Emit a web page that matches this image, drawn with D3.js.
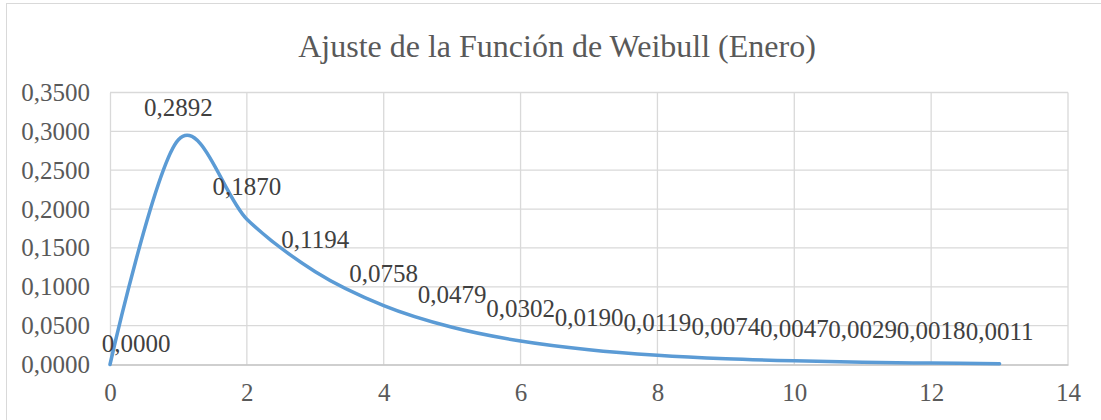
<!DOCTYPE html>
<html>
<head>
<meta charset="utf-8">
<script src="https://cdn.jsdelivr.net/npm/d3@7"></script>
<style>
  text, .chart-text { font-family: 'Liberation Serif', 'Times New Roman', serif !important; }
</style>
</head>
<body style="margin:0">
<script>
// data
var xValues = [0, 1, 2, 3, 4, 5, 6, 7, 8, 9, 10, 11, 12, 13];
var yValues = [0.0000, 0.2892, 0.1870, 0.1194, 0.0758, 0.0479, 0.0302, 0.0190, 0.0119, 0.0074, 0.0047, 0.0029, 0.0018, 0.0011];
var xTicks = [0, 2, 4, 6, 8, 10, 12, 14];
var yTicks = [0, 0.05, 0.10, 0.15, 0.20, 0.25, 0.30, 0.35];
var title = "Ajuste de la Función de Weibull (Enero)";

var W = 1101, H = 420;
var margin = {top: 92.5, right: 33, bottom: 55.5, left: 110};
var width = W - margin.left - margin.right,
    height = H - margin.top - margin.bottom;
var serif = "'Liberation Serif'";

var fmt = function(v) { return v.toFixed(4).replace(".", ","); };

var svg = d3.select("body").append("svg")
  .attr("width", W)
  .attr("height", H)
  .attr("font-family", serif);

// chart frame
svg.append("rect")
  .attr("x", 6.5).attr("y", 3.5)
  .attr("width", W).attr("height", H)
  .attr("fill", "none")
  .attr("stroke", "#d9d9d9");

svg.append("text")
  .attr("class", "chart-text")
  .attr("x", 557)
  .attr("y", 57)
  .attr("text-anchor", "middle")
  .attr("font-size", 32)
  .attr("fill", "#595959")
  .attr("font-family", serif)
  .style("font-family", serif)
  .text(title);

var g = svg.append("g")
  .attr("transform", "translate(" + margin.left + "," + margin.top + ")");

var xScale = d3.scaleLinear().domain([0, 14]).range([0, width]);
var yScale = d3.scaleLinear().domain([0, 0.35]).range([height, 0]);

// gridlines
g.selectAll(".hgrid").data(yTicks.filter(function(d) { return d > 0; }))
  .enter().append("line")
  .attr("x1", 0).attr("x2", width)
  .attr("y1", function(d) { return yScale(d); })
  .attr("y2", function(d) { return yScale(d); })
  .attr("stroke", "#d9d9d9").attr("stroke-width", 1.3);

g.selectAll(".vgrid").data(xTicks.filter(function(d) { return d > 0; }))
  .enter().append("line")
  .attr("x1", function(d) { return xScale(d); })
  .attr("x2", function(d) { return xScale(d); })
  .attr("y1", 0).attr("y2", height)
  .attr("stroke", "#d9d9d9").attr("stroke-width", 1.3);

// axes
var xAxis = g.append("g")
  .attr("transform", "translate(0," + height + ")")
  .call(d3.axisBottom(xScale).tickValues(xTicks).tickSize(0).tickPadding(19));
xAxis.attr("font-family", serif);
xAxis.select(".domain").attr("stroke", "#bfbfbf").attr("stroke-width", 1.5);
xAxis.selectAll("text")
  .attr("class", "chart-text")
  .attr("font-size", 25)
  .attr("fill", "#595959")
  .style("font-family", serif);

var yAxis = g.append("g")
  .call(d3.axisLeft(yScale).tickValues(yTicks).tickSize(0).tickPadding(20).tickFormat(fmt));
yAxis.attr("font-family", serif);
yAxis.select(".domain").attr("stroke", "#d9d9d9").attr("stroke-width", 1.3);
yAxis.selectAll("text")
  .attr("class", "chart-text")
  .attr("font-size", 25)
  .attr("fill", "#595959")
  .style("font-family", serif);

// smoothed line like the spreadsheet one
var points = xValues.map(function(x, i) { return {x: x, y: yValues[i]}; });
var line = d3.line()
  .x(function(d) { return xScale(d.x); })
  .y(function(d) { return yScale(d.y); })
  .curve(d3.curveCardinal.tension(0));

g.append("path")
  .datum(points)
  .attr("d", line)
  .attr("fill", "none")
  .attr("stroke", "#5b9bd5")
  .attr("stroke-width", 3.5)
  .attr("stroke-linecap", "round");

// data labels
g.selectAll(".lbl").data(points)
  .enter().append("text")
  .attr("class", "chart-text")
  .attr("x", function(d, i) { return xScale(d.x) + (i === 0 ? 26 : 0); })
  .attr("y", function(d, i) { return yScale(d.y) - (i === 0 ? 12.5 : 24); })
  .attr("text-anchor", "middle")
  .attr("font-size", 25)
  .attr("fill", "#404040")
  .style("font-family", serif)
  .text(function(d) { return fmt(d.y); });
</script>
</body>
</html>
